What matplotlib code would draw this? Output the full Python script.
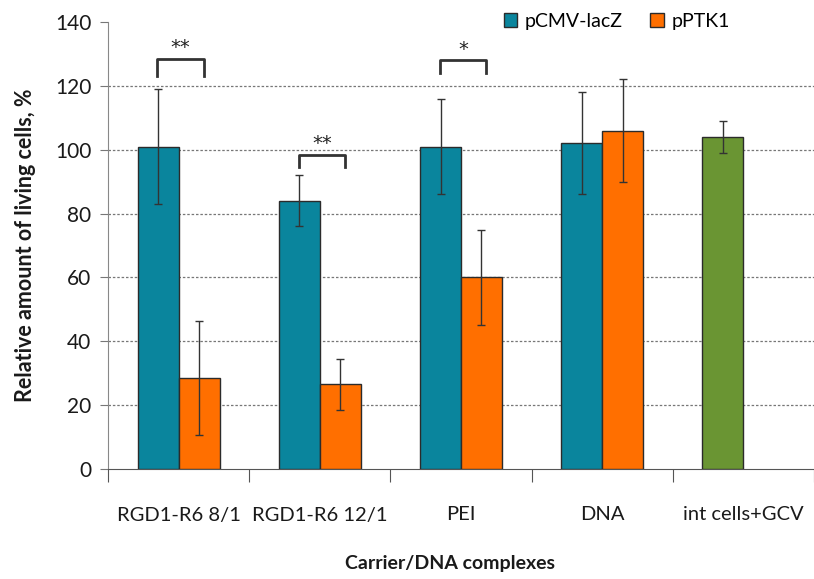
import numpy as np
import matplotlib.pyplot as plt

categories = ['RGD1-R6 8/1', 'RGD1-R6 12/1', 'PEI', 'DNA', 'int cells+GCV']
lacz_vals = [101, 84, 101, 102]
lacz_err = [18, 8, 15, 16]
ptk_vals = [28.5, 26.5, 60, 106]
ptk_err = [18, 8, 15, 16]
ctrl_val = 104
ctrl_err = 5
# significance brackets: group index, bracket base, bracket top, label
sig_groups = [0, 1, 2]
sig_base = [123, 94.5, 124]
sig_top = [128.5, 98.5, 128]
sig_text = ['**', '**', '*']

teal = '#0a859d'
orange = '#ff6f00'
green = '#6a9533'

plt.rcParams['font.family'] = ['Lato', 'DejaVu Sans']

fig = plt.figure(figsize=(8.14, 5.79), dpi=100)
ax = fig.add_axes([108/814, 110/579, 706/814, 447/579])

x = np.arange(len(categories))
w = 0.29
off = 0.145
ekw = dict(ecolor='#333333', elinewidth=1, capsize=3, capthick=1)
ax.bar(x[:4] - off, lacz_vals, w, yerr=lacz_err,
       color=teal, edgecolor='#2b2b2b', linewidth=1, error_kw=ekw, label='pCMV-lacZ', zorder=3)
ax.bar(x[:4] + off, ptk_vals, w, yerr=ptk_err,
       color=orange, edgecolor='#2b2b2b', linewidth=1, error_kw=ekw, label='pPTK1', zorder=3)
ax.bar(x[4] - off, ctrl_val, w, yerr=ctrl_err,
       color=green, edgecolor='#2b2b2b', linewidth=1, error_kw=ekw, zorder=3)

for g, b, t, s in zip(sig_groups, sig_base, sig_top, sig_text):
    ax.plot([g - 0.15, g - 0.15, g + 0.18, g + 0.18], [b, t, t, b],
            color='#333333', lw=2, zorder=4)
    ax.text(g + 0.015, t + 3.5, s, ha='center', va='center', fontsize=14,
            family='DejaVu Sans', color='#222222')

for yv in range(20, 140, 20):
    ax.axhline(yv, color='#777777', lw=0.9, ls=(0, (2, 1.5)), zorder=1)

ax.set_ylim(0, 140)
ax.set_xlim(-0.5, 4.472)
ax.set_yticks(range(0, 141, 20))
ax.set_xticks(np.arange(-0.5, 5, 1))
ax.set_xticklabels([])
ax.set_xticks(x, minor=True)
ax.set_xticklabels(categories, minor=True, fontsize=14.5, color='#1a1a1a')
ax.tick_params(axis='x', which='minor', length=0, pad=27)
ax.tick_params(axis='x', which='major', length=9, color='#555555')
ax.tick_params(axis='y', length=6, color='#777777', labelsize=15, labelcolor='#1a1a1a', pad=6)

for side in ['top', 'right']:
    ax.spines[side].set_visible(False)
ax.spines['left'].set_color('#888888')
ax.spines['bottom'].set_color('#555555')

ax.set_ylabel('Relative amount of living cells, %', fontsize=15.5, fontweight='bold',
              labelpad=14, color='#1a1a1a')
fig.text(450/814, 1 - 564/579, 'Carrier/DNA complexes', ha='center', va='center',
         fontsize=14, fontweight='bold', color='#1a1a1a')

ax.legend(loc='upper left', bbox_to_anchor=(378/706, 1.06), ncol=2, frameon=False,
          fontsize=14, handlelength=0.7, handleheight=0.7, handletextpad=0.4, columnspacing=1.4)

fig.savefig('out.png', dpi=100)
